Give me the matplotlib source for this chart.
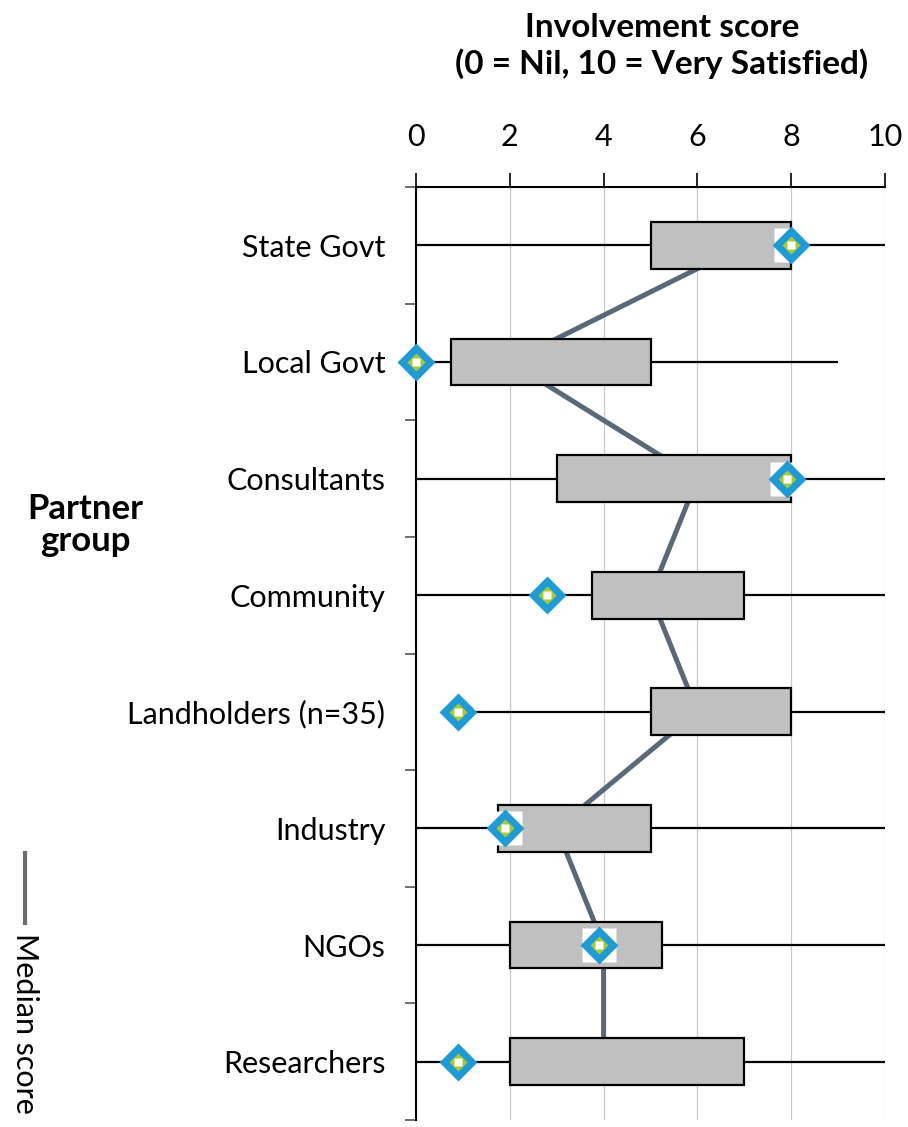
import matplotlib
matplotlib.use("Agg")
import matplotlib.pyplot as plt
from matplotlib.lines import Line2D

plt.rcParams['font.family'] = ['Lato', 'DejaVu Sans']

# values
groups = ["State Govt", "Local Govt", "Consultants", "Community",
          "Landholders (n=35)", "Industry", "NGOs", "Researchers"]
low = [0, 0, 0, 0, 1, 0, 0, 0]
high = [10, 9, 10, 10, 10, 10, 10, 10]
q1 = [5, 0.75, 3, 3.75, 5, 1.75, 2, 2]
q3 = [8, 5, 8, 7, 8, 5, 5.25, 7]
median = [7, 2, 6, 5, 6, 3, 4, 4]
marker_score = [8, 0, 7.9, 2.8, 0.9, 1.9, 3.9, 0.9]
xticks = [0, 2, 4, 6, 8, 10]

W, H = 908, 1127
fig = plt.figure(figsize=(W / 100, H / 100), dpi=100)
ax = fig.add_axes([416 / W, 7 / H, 469 / W, 933 / H])
ypos = list(range(len(groups)))

# median line sits behind the boxes
ax.plot(median, ypos, color='#5a6978', lw=3.6, zorder=2)
ax.hlines(ypos, low, high, color='black', lw=1.6, zorder=3)
widths = [b - a for a, b in zip(q1, q3)]
ax.barh(ypos, widths, left=q1, height=0.4, color='#c0c0c0',
        edgecolor='black', lw=1.6, zorder=4)

# diamond picture markers (white backing, blue, green, white centre)
ax.plot(marker_score, ypos, ls='none', marker='s', ms=25, mfc='white',
        mec='none', zorder=5, clip_on=False)
ax.plot(marker_score, ypos, ls='none', marker='D', ms=19, mfc='#1e9bd7',
        mec='none', zorder=6, clip_on=False)
ax.plot(marker_score, ypos, ls='none', marker='D', ms=9, mfc='#a9c92f',
        mec='none', zorder=7, clip_on=False)
ax.plot(marker_score, ypos, ls='none', marker='s', ms=6, mfc='white',
        mec='none', zorder=8, clip_on=False)

ax.set_xlim(0, 10)
ax.set_ylim(len(groups) - 0.5, -0.5)
ax.xaxis.tick_top()
ax.set_xticks(xticks)
ax.tick_params(axis='x', direction='out', length=10, width=1.2, pad=16,
               labelsize=22)
ax.grid(axis='x', color='#c8c8c8', lw=0.9)
ax.set_axisbelow(True)

ax.set_yticks(ypos)
ax.set_yticklabels(groups, fontsize=22)
ax.set_yticks([i - 0.5 for i in range(len(groups) + 1)], minor=True)
ax.tick_params(axis='y', which='major', length=0, pad=22)
ax.tick_params(axis='y', which='minor', direction='out', length=8, width=1.2,
               color='#555555')

for side in ['bottom', 'right']:
    ax.spines[side].set_visible(False)
for side in ['top', 'left']:
    ax.spines[side].set_linewidth(1.5)
    ax.spines[side].set_color('black')

fig.text(662 / W, 1 - 37 / H, 'Involvement score', ha='center',
         va='baseline', fontsize=24, fontweight='bold')
fig.text(662 / W, 1 - 74 / H, '(0 = Nil, 10 = Very Satisfied)', ha='center',
         va='baseline', fontsize=24, fontweight='bold')
fig.text(85 / W, 1 - 525 / H, 'Partner\ngroup', ha='center', va='center',
         fontsize=25, fontweight='bold', linespacing=1.0)

# rotated legend for the median line
fig.add_artist(Line2D([25 / W, 25 / W], [1 - 853 / H, 1 - 923 / H],
                      color='#6d6d6d', lw=3))
fig.text(25 / W, 1 - 933 / H, 'Median score', rotation=-90, ha='center',
         va='top', fontsize=22)

fig.savefig('out.png', dpi=100)
